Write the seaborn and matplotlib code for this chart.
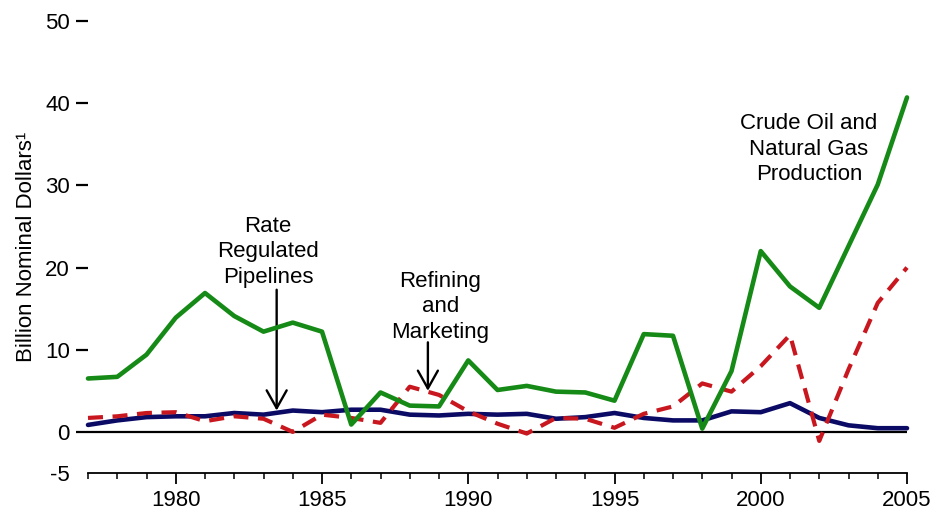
"""Oil and gas industry net income by line of business, 1977-2005."""

import matplotlib
matplotlib.use("Agg")
import matplotlib.pyplot as plt
import pandas as pd
import seaborn as sns
from matplotlib.ticker import MultipleLocator

years = list(range(1977, 2006))

crude_gas = [6.5, 6.7, 9.4, 13.9, 16.9, 14.1, 12.2, 13.3, 12.2, 0.9,
             4.8, 3.2, 3.1, 8.7, 5.1, 5.6, 4.9, 4.8, 3.8, 11.9,
             11.7, 0.4, 7.4, 22.0, 17.7, 15.1, 22.6, 30.1, 40.7]
refining = [1.7, 1.9, 2.3, 2.4, 1.3, 1.9, 1.6, 0.0, 2.1, 1.7,
            1.1, 5.5, 4.5, 2.5, 1.0, -0.2, 1.7, 1.6, 0.5, 2.2,
            3.1, 5.9, 4.9, 8.0, 11.8, -1.1, 7.6, 15.7, 20.0]
pipelines = [0.85, 1.4, 1.8, 1.9, 1.9, 2.3, 2.1, 2.6, 2.4, 2.7,
             2.7, 2.1, 2.0, 2.2, 2.1, 2.2, 1.6, 1.8, 2.3, 1.7,
             1.4, 1.4, 2.5, 2.4, 3.5, 1.7, 0.8, 0.45, 0.45]

y_ticks = [-5, 0, 10, 20, 30, 40, 50]
y_label = "Billion Nominal Dollars\u00b9"

sns.set_theme(style="white")
plt.rcParams["font.family"] = ["Liberation Sans", "DejaVu Sans"]
plt.rcParams.update({"text.color": "black", "axes.labelcolor": "black",
                     "xtick.color": "black", "ytick.color": "black"})

df = pd.DataFrame({"year": years, "crude": crude_gas,
                   "refining": refining, "pipelines": pipelines})

fig = plt.figure(figsize=(9.36, 5.13), dpi=100)
ax = fig.add_axes([88 / 936, 1 - 473 / 513, 819 / 936, 452 / 513])

ax.axhline(0, color="black", lw=1.6, zorder=1)
sns.lineplot(data=df, x="year", y="pipelines", ax=ax, color="#0B0B66",
             lw=3.3, zorder=3, clip_on=False)
sns.lineplot(data=df, x="year", y="refining", ax=ax, color="#C8171E",
             lw=3.0, zorder=4, clip_on=False)
ax.lines[-1].set_dashes((3.6, 2.3))
sns.lineplot(data=df, x="year", y="crude", ax=ax, color="#168A16",
             lw=3.3, zorder=5, clip_on=False)

ax.set_xlim(1977, 2005)
ax.set_ylim(-5, 50)
ax.set(xlabel=None)
ax.set_ylabel(y_label, fontsize=16, labelpad=6)

for side in ("top", "right", "left"):
    ax.spines[side].set_visible(False)
ax.spines["bottom"].set_color("black")
ax.spines["bottom"].set_linewidth(1.3)

ax.set_yticks(y_ticks)
ax.set_yticklabels([str(t) for t in y_ticks])
ax.tick_params(axis="y", left=True, length=9, width=1.6, color="black",
               pad=4, labelsize=16)
ax.yaxis.get_major_ticks()[0].tick1line.set_visible(False)

ax.xaxis.set_major_locator(MultipleLocator(5))
ax.xaxis.set_minor_locator(MultipleLocator(1))
ax.tick_params(axis="x", which="major", bottom=True, direction="out",
               length=8, width=1.3, color="black", pad=4, labelsize=16)
ax.tick_params(axis="x", which="minor", bottom=True, direction="out",
               length=4, width=1.1, color="black")

note_kw = dict(ha="center", va="center", fontsize=16, linespacing=1.28,
               color="black", zorder=6)
arrow_kw = dict(arrowstyle="->,head_length=0.8,head_width=0.45",
                color="black", lw=1.7, shrinkA=0, shrinkB=0,
                mutation_scale=16)

ax.text(1983.15, 21.9, "Rate\nRegulated\nPipelines", **note_kw)
ax.annotate("", xy=(1983.45, 2.6), xytext=(1983.45, 17.3),
            arrowprops=arrow_kw)

ax.text(1989.05, 15.2, "Refining\nand\nMarketing", **note_kw)
ax.annotate("", xy=(1988.62, 5.0), xytext=(1988.62, 10.9),
            arrowprops=arrow_kw)

ax.text(2001.65, 34.4, "Crude Oil and\nNatural Gas\nProduction", **note_kw)

fig.savefig("out.png", dpi=100)
